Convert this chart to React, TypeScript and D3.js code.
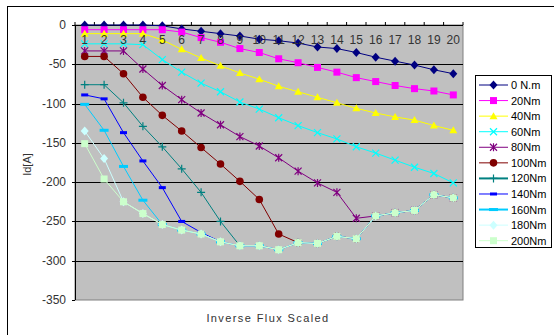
import React from 'react';
import * as d3 from 'd3';

const categories = d3.range(1, 21);
const yTicks = [0, -50, -100, -150, -200, -250, -300, -350];

const nm0 = [0, 0, 0, 0, -1, -5, -8, -11, -14, -18, -20, -23, -28, -30, -35, -41, -46, -51, -57, -62];
const nm20 = [-6, -6, -6, -6, -6, -9, -16, -22, -30, -35, -43, -48, -54, -60, -67, -72, -77, -81, -84, -89];
const nm40 = [-11, -11, -11, -11, -19, -31, -42, -52, -61, -69, -78, -85, -92, -99, -106, -112, -117, -121, -128, -134];
const nm60 = [-24, -24, -24, -25, -44, -60, -74, -85, -98, -107, -118, -128, -137, -145, -155, -163, -172, -181, -189, -201];
const nm80 = [-33, -33, -33, -56, -77, -95, -112, -127, -142, -154, -169, -186, -201, -213, -246, -243, -239, -236, -216, -220];
const nm100 = [-40, -40, -62, -92, -115, -135, -156, -177, -199, -222, -266, -277, -278, -269, -272, -243, -239, -236, -216, -220];
const nm120 = [-76, -76, -99, -129, -155, -183, -213, -250, -281, -281, -286, -277, -278, -269, -272, -243, -239, -236, -216, -220];
const nm140 = [-89, -94, -137, -173, -207, -250, -264, -276, -281, -281, -286, -277, -278, -269, -272, -243, -239, -236, -216, -220];
const nm160 = [-101, -134, -180, -223, -254, -261, -266, -276, -281, -281, -286, -277, -278, -269, -272, -243, -239, -236, -216, -220];
const nm180 = [-135, -170, -225, -240, -254, -261, -266, -276, -281, -281, -286, -277, -278, -269, -272, -243, -239, -236, -216, -220];
const nm200 = [-151, -196, -225, -240, -254, -261, -266, -276, -281, -281, -286, -277, -278, -269, -272, -243, -239, -236, -216, -220];

const seriesNames = ['0 N.m', '20Nm', '40Nm', '60Nm', '80Nm', '100Nm', '120Nm', '140Nm', '160Nm', '180Nm', '200Nm'];
const seriesValues = [nm0, nm20, nm40, nm60, nm80, nm100, nm120, nm140, nm160, nm180, nm200];
const colors = ['#000080', '#ff00ff', '#ffff00', '#00ffff', '#800080', '#800000', '#008080', '#0000ff', '#00ccff', '#ccffff', '#ccffcc'];
const markers = ['diamond', 'square', 'triangle', 'x', 'star', 'circle', 'plus', 'dash', 'longdash', 'diamond', 'square'];

const font = 'Liberation Sans, Arial, sans-serif';

function Marker({ type, x, y, color }: { type: string; x: number; y: number; color: string }) {
  switch (type) {
    case 'diamond':
      return <path d={`M${x},${y - 4.5}L${x + 4},${y}L${x},${y + 4.5}L${x - 4},${y}Z`} fill={color} />;
    case 'square':
      return <rect x={x - 3.5} y={y - 3.5} width={7} height={7} fill={color} />;
    case 'triangle':
      return <path d={`M${x},${y - 4}L${x + 4},${y + 3}L${x - 4},${y + 3}Z`} fill={color} />;
    case 'circle':
      return <circle cx={x} cy={y} r={3.8} fill={color} />;
    case 'x':
      return <path d={`M${x - 3.5},${y - 3.5}L${x + 3.5},${y + 3.5}M${x - 3.5},${y + 3.5}L${x + 3.5},${y - 3.5}`} stroke={color} strokeWidth={1.2} />;
    case 'star':
      return <path d={`M${x - 3.5},${y - 3.5}L${x + 3.5},${y + 3.5}M${x - 3.5},${y + 3.5}L${x + 3.5},${y - 3.5}M${x},${y - 4}L${x},${y + 4}`} stroke={color} strokeWidth={1.2} />;
    case 'plus':
      return <path d={`M${x - 4},${y}L${x + 4},${y}M${x},${y - 4}L${x},${y + 4}`} stroke={color} strokeWidth={1.2} />;
    case 'dash':
      return <rect x={x - 3.5} y={y - 1.5} width={7} height={3} fill={color} />;
    case 'longdash':
      return <rect x={x - 4.5} y={y - 1.5} width={9} height={3} fill={color} />;
    default:
      return null;
  }
}

export default function App() {
  const width = 554, height = 335;
  const left = 75, right = 463, top = 25, bottom = 300;

  const x = d3.scaleBand<number>().domain(categories).range([left, right]);
  const y = d3.scaleLinear().domain([-350, 0]).range([bottom, top]);
  const cx = (c: number) => (x(c) as number) + x.bandwidth() / 2;

  const line = d3.line<number>()
    .x((d, i) => cx(categories[i]))
    .y(d => y(d));

  const legendTop = 85, legendStep = 15.57;

  return (
    <svg width={width} height={height} style={{ position: 'absolute', left: 0, top: 0 }}>
      <rect x={0} y={0} width={width} height={height} fill="#fff" />
      <rect x={7.5} y={6.5} width={560} height={340} fill="none" stroke="#000" />

      <rect x={left} y={top} width={right - left} height={bottom - top} fill="#c0c0c0" stroke="#808080" />

      {yTicks.filter(t => t !== 0 && t !== -350).map(t =>
        <line key={t} x1={left} x2={right} y1={Math.round(y(t)) + 0.5} y2={Math.round(y(t)) + 0.5} stroke="#000" />
      )}

      {/* y axis */}
      <line x1={left + 0.5} x2={left + 0.5} y1={top} y2={bottom} stroke="#000" />
      {yTicks.map(t =>
        <g key={t}>
          <line x1={left - 3} x2={left} y1={Math.round(y(t)) + 0.5} y2={Math.round(y(t)) + 0.5} stroke="#000" />
          <text x={left - 9} y={y(t) + 4} textAnchor="end" fontFamily={font} fontSize={12} fill="#333">{t}</text>
        </g>
      )}

      {/* category axis at 0 */}
      <line x1={left} x2={right} y1={Math.round(y(0)) + 0.5} y2={Math.round(y(0)) + 0.5} stroke="#000" />
      {d3.range(categories.length + 1).map(i =>
        <line key={i} x1={left + i * x.bandwidth()} x2={left + i * x.bandwidth()} y1={y(0) - 3} y2={y(0)} stroke="#000" />
      )}

      {seriesValues.map((vals, s) =>
        <g key={s}>
          <path d={line(vals) as string} fill="none" stroke={colors[s]} strokeWidth={1} />
          {vals.map((v, i) => <Marker key={i} type={markers[s]} x={cx(categories[i])} y={y(v)} color={colors[s]} />)}
        </g>
      )}

      {categories.map(c =>
        <text key={c} x={cx(c)} y={y(0) + 19} textAnchor="middle" fontFamily={font} fontSize={12} fill="#333">{c}</text>
      )}

      <text transform={`translate(31,${(top + bottom) / 2 + 2}) rotate(-90)`} textAnchor="middle"
            fontFamily={font} fontSize={11} fill="#333">Id[A]</text>
      <text x={268} y={322} textAnchor="middle" fontFamily={font} fontSize={11} letterSpacing={1.4} fill="#333">Inverse Flux Scaled</text>

      {/* legend */}
      <rect x={475.5} y={75.5} width={76} height={172} fill="#fff" stroke="#000" />
      {seriesNames.map((name, s) => {
        const ly = legendTop + s * legendStep;
        return (
          <g key={name}>
            <line x1={479} x2={508} y1={ly} y2={ly} stroke={colors[s]} strokeWidth={s === 6 || s === 8 ? 2 : 1} />
            <Marker type={markers[s]} x={493.5} y={ly} color={colors[s]} />
            <text x={511} y={ly + 4} fontFamily={font} fontSize={11} fill="#000">{name}</text>
          </g>
        );
      })}
    </svg>
  );
}
